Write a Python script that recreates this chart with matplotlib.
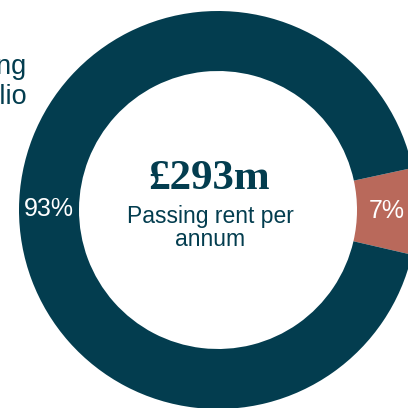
import matplotlib

matplotlib.use("Agg")
import matplotlib.pyplot as plt

TEAL = "#033d4f"
TERRACOTTA = "#b9695b"

shares = [7, 93]
segment_colors = [TERRACOTTA, TEAL]
headline = "£293m"
subtitle = "Passing rent per\nannum"
legend_label = "Existing\nportfolio"


def main() -> None:
    fig = plt.figure(figsize=(4.08, 4.08), dpi=100)
    ax = fig.add_axes([0, 0, 1, 1])

    _, _, pct_texts = ax.pie(
        shares,
        colors=segment_colors,
        startangle=-13,
        counterclock=True,
        center=(218, 198),
        radius=199,
        frame=True,
        autopct="%.0f%%",
        pctdistance=0.85,
        wedgeprops={"width": 60, "linewidth": 0},
    )
    for text in pct_texts:
        text.set_color("white")
        text.set_fontsize(18)
        text.set_fontfamily("Liberation Sans")

    ax.set_xlim(0, 408)
    ax.set_ylim(0, 408)
    ax.set_aspect("equal")
    ax.axis("off")

    ax.text(209, 229, headline, ha="center", va="center", color=TEAL,
            fontsize=31, fontweight="bold", family="Liberation Serif")
    ax.text(210, 180, subtitle, ha="center", va="center", color=TEAL,
            fontsize=16.5, family="Liberation Sans", linespacing=1.05)
    # legend label runs off the left edge, as in the source graphic
    ax.text(27, 326, legend_label, ha="right", va="center", color=TEAL,
            fontsize=19.5, family="Liberation Sans", linespacing=1.2)

    fig.savefig("out.png", dpi=100)
    plt.close(fig)


if __name__ == "__main__":
    main()
